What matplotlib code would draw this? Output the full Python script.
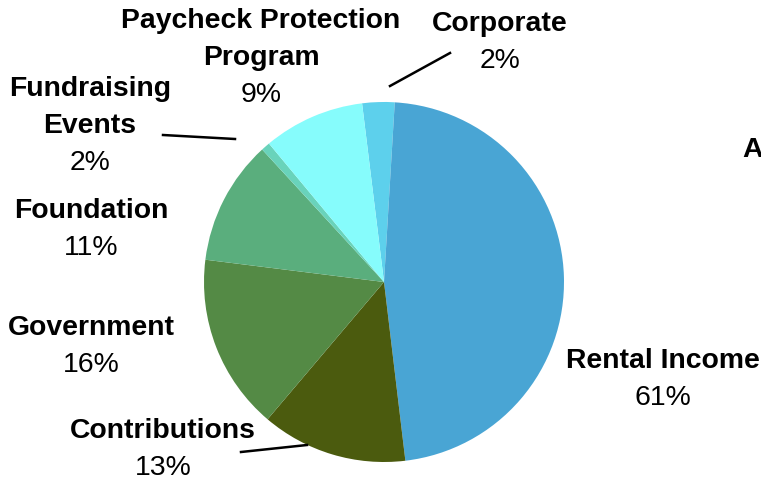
import matplotlib.pyplot as plt

plt.rcParams['font.family'] = ['Liberation Sans', 'DejaVu Sans']

# slices in clockwise order starting at the top
categories = ['Corporate', 'Rental Income', 'Contributions', 'Government',
              'Foundation', 'Fundraising\nEvents', 'Paycheck Protection\nProgram']
shares = [2.9, 47.2, 13.1, 15.8, 11.2, 0.8, 9.1]
pct_labels = ['2%', '61%', '13%', '16%', '11%', '2%', '9%']
colors = ['#5DD0EC', '#49A5D4', '#4B5B0E', '#548A45', '#5AAE7D', '#69D3BB', '#86FCFC']

W, H = 761, 481
cx, cy, r = 384, 283, 180

fig = plt.figure(figsize=(W / 100, H / 100), dpi=100)
ax = fig.add_axes([(cx - r) / W, (H - cy - r) / H, 2 * r / W, 2 * r / H])
ax.pie(shares, colors=colors, startangle=97, counterclock=False, radius=1,
       wedgeprops=dict(linewidth=0))
ax.set_xlim(-1, 1)
ax.set_ylim(-1, 1)
ax.axis('off')


def to_data(px, py):
    return (px - cx) / r, (cy - py) / r


# label placement in pixels: (x center, y of first line)
label_pos = [(500, 24), (663, 361), (163, 431), (91, 328), (91, 211), (90, 89), (261, 21)]
line_step = 37
fs = 20.4
for name, pct, (px, py) in zip(categories, pct_labels, label_pos):
    lines = name.split('\n')
    for i, ln in enumerate(lines):
        x, y = to_data(px, py + i * line_step)
        ax.text(x, y, ln, ha='center', va='center', fontsize=fs,
                fontweight='bold', clip_on=False)
    x, y = to_data(px, py + len(lines) * line_step)
    ax.text(x, y, pct, ha='center', va='center', fontsize=fs, clip_on=False)

# leader lines
leaders = [((390, 87), (450, 54)), ((163, 136), (235, 140)), ((241, 453), (307, 446))]
for (x0, y0), (x1, y1) in leaders:
    a = to_data(x0, y0)
    b = to_data(x1, y1)
    ax.plot([a[0], b[0]], [a[1], b[1]], color='black', lw=1.8, clip_on=False)

# cut-off title at the right edge
fig.text(742 / W, 1 - 150 / H, 'A', ha='left', va='center', fontsize=fs,
         fontweight='bold')

fig.savefig('out.png', dpi=100)
